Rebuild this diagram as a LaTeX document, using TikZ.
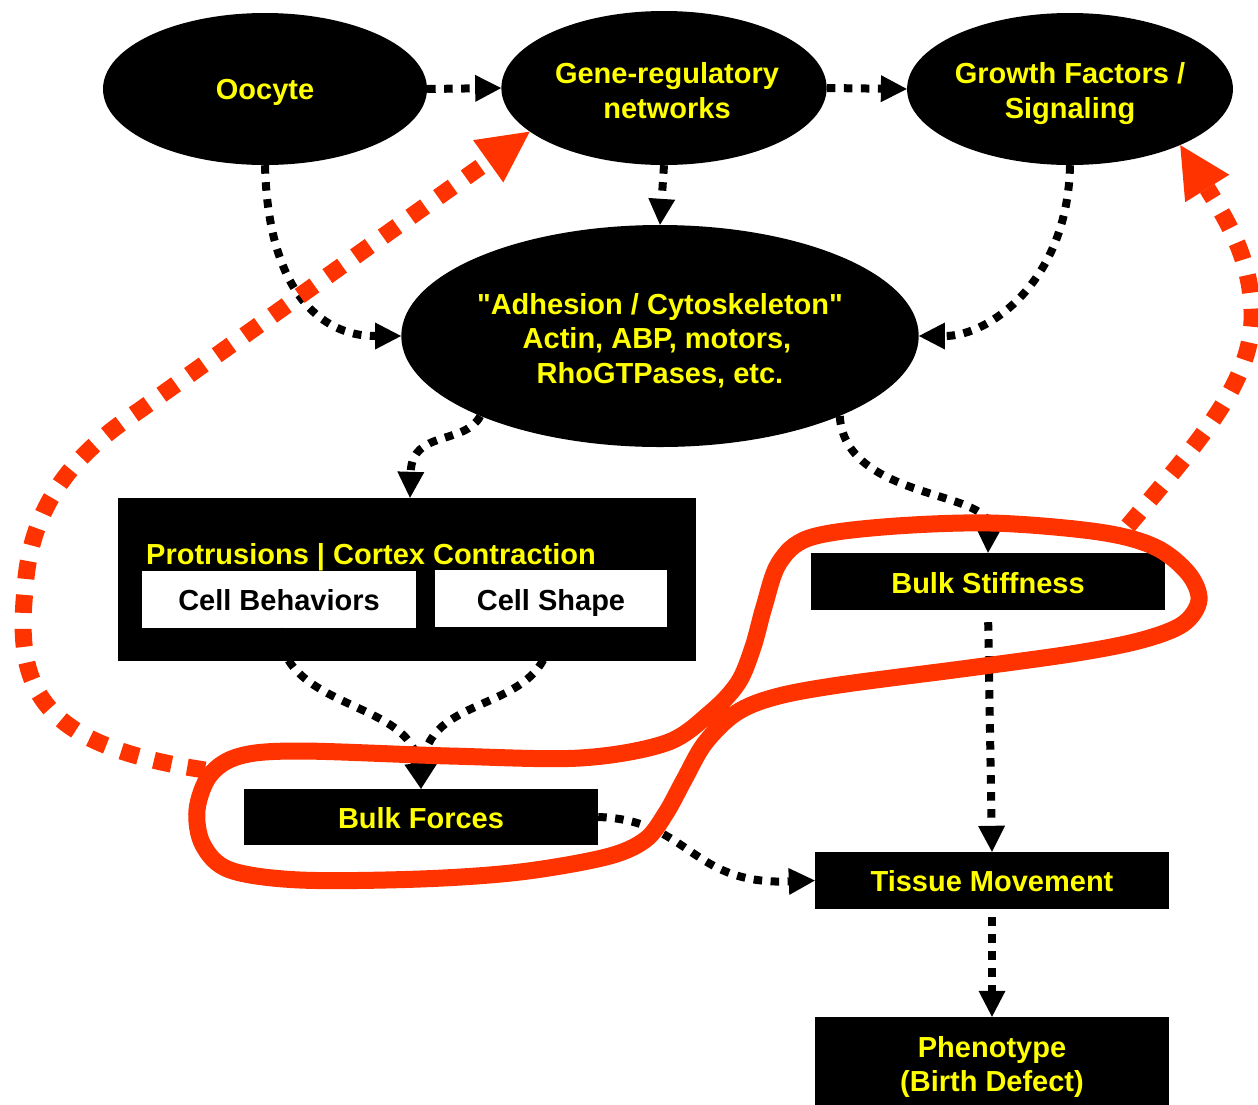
\documentclass[tikz,border=0pt]{standalone}
\usepackage{fontspec}
\setmainfont{Liberation Sans}[Ligatures=TeXOff]
\usetikzlibrary{arrows.meta,shapes.geometric}
\definecolor{redc}{RGB}{255,51,0}
\definecolor{yel}{RGB}{255,255,0}
\newcommand\lowr[2][3pt]{\raisebox{-#1}[\height][\depth]{#2}}
\newcommand\stk[1]{\begin{tabular}{@{}c@{}}#1\end{tabular}}
\begin{document}
\begin{tikzpicture}[x=1pt,y=-1pt,
  txt/.style={font=\fontsize{29}{34.5}\selectfont\bfseries},
  ell/.style={ellipse, fill=black, text=yel, txt, align=center, inner sep=0pt},
  blk/.style={rectangle, fill=black, text=yel, txt, align=center, inner sep=0pt},
  wht/.style={rectangle, fill=white, text=black, txt, inner sep=0pt},
  dotarrow/.style={draw=black, line width=8pt, dash pattern=on 8.5pt off 8.5pt,
    -{Triangle[length=26pt,width=27pt,line width=0pt]}},
  redarrow/.style={draw=redc, color=redc, line width=17pt, dash pattern=on 18pt off 16pt,
    -{Triangle[length=51pt,width=52pt,line width=0pt]}},
  redloop/.style={draw=redc, line width=17pt}
]
\useasboundingbox (0,0) rectangle (1258,1104);
\clip (0,0) rectangle (1258,1104);
\fill[white] (0,0) rectangle (1258,1104);

% ellipses
\node[ell, minimum width=324pt, minimum height=152pt] (oocyte) at (265,89) {\lowr{Oocyte}};
\node[ell, minimum width=320pt, minimum height=154pt] (gene) at (664,88) {\lowr[6pt]{\stk{\hspace*{6pt}Gene-regulatory\\\hspace*{6pt}networks}}};
\node[ell, minimum width=324pt, minimum height=152pt] (growth) at (1070,89) {\lowr[5pt]{\stk{Growth Factors /\\Signaling}}};
\node[ell, minimum width=513pt, minimum height=222pt] (adh) at (660,336) {\lowr[6pt]{\stk{"Adhesion / Cytoskeleton"\\Actin, ABP, motors,\hspace*{6pt}\\RhoGTPases, etc.}}};

% boxes
\node[blk, minimum width=578pt, minimum height=163pt] (prot) at (407,579.5) {};
\node[txt, text=yel, inner sep=0pt] (protlbl) at (371,557) {Protrusions | Cortex Contraction};
\node[wht, minimum width=274pt, minimum height=57pt] (cb) at (279,599.5) {\lowr[1pt]{Cell Behaviors}};
\node[wht, minimum width=232pt, minimum height=57pt] (cs) at (551,598.5) {\lowr[4pt]{Cell Shape}};
\node[blk, minimum width=354pt, minimum height=57pt] (bs) at (988,581.5) {\lowr[2pt]{Bulk Stiffness}};
\node[blk, minimum width=354pt, minimum height=56pt] (bf) at (421,817) {\lowr[1pt]{Bulk Forces}};
\node[blk, minimum width=354pt, minimum height=57pt] (tm) at (992,880.5) {\lowr[1pt]{Tissue Movement}};
\node[blk, minimum width=354pt, minimum height=94pt] (ph) at (992,1064) {\lowr[3.5pt]{\stk{Phenotype\\(Birth Defect)}}};

% black dotted connectors
\draw[dotarrow] (oocyte.east) -- (gene.west);
\draw[dotarrow] (gene.east) -- (growth.west);
\draw[dotarrow] (gene.south) -- (adh.north);
\draw[dotarrow] (oocyte.south) .. controls (268,290) and (320,336) .. (adh.west);
\draw[dotarrow] (growth.south) .. controls (1068,280) and (990,336) .. (adh.east);
\draw[dotarrow] (adh.204) .. controls (465,445) and (412,430) .. ([xshift=3pt]prot.north);
\draw[dotarrow] (adh.336) .. controls (845,500) and (990,490) .. (bs.north);
\draw[dotarrow] (cb.south) .. controls (282,710) and (410,700) .. (bf.north);
\draw[dotarrow] (cs.south) .. controls (550,715) and (430,690) .. (bf.north);
\draw[dotarrow, shorten <=12pt] (bs.south) -- (tm.north);
\draw[dotarrow] (bf.east) .. controls (690,820) and (690,885) .. (tm.west);
\draw[dotarrow, shorten <=8pt] (tm.south) -- (ph.north);

% red loop
\draw[redloop] plot[smooth cycle, tension=0.55] coordinates {
  (300,751) (450,756) (580,758) (666,743) (710,713) (738,683) (753,647)
  (764,607) (779,563) (809,538) (883,527) (991,523) (1099,532) (1155,547)
  (1188,573) (1199,600) (1183,624) (1142,640) (1077,653) (969,668)
  (839,685) (775,697) (736,713) (705,743) (684,780) (666,813) (645,840)
  (606,857) (520,872) (420,879) (300,880) (230,870) (203,845) (197,810)
  (210,775) (240,756)};

% red dashed feedback arrows
\coordinate (r1s) at (205,770);
\coordinate (r2s) at (1128,526);
\draw[redarrow] (r1s) .. controls (40,745) and (15,690) .. (25,590)
  .. controls (30,500) and (80,450) .. (140,410) -- (gene.198);
\draw[redarrow] (r2s) .. controls (1200,440) and (1255,380) .. (1252,310)
  .. controls (1250,260) and (1230,225) .. (growth.333);
\end{tikzpicture}
\end{document}
